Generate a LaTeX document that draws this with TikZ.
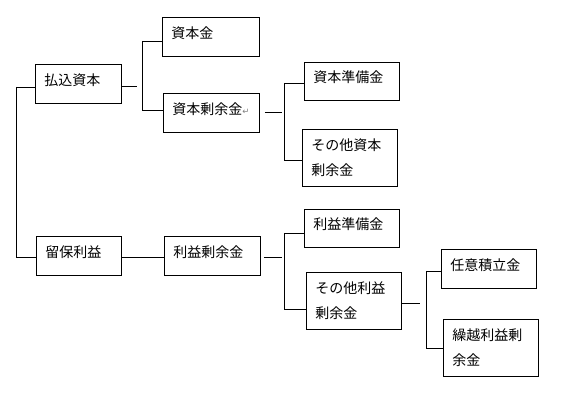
\documentclass[tikz,border=0pt]{standalone}
\usepackage{fontspec}
\newfontfamily\jpfont{Noto Sans CJK JP}
\newfontfamily\symfont{DejaVu Sans}
\tikzset{
  acct/.style={draw,line width=0.9pt,anchor=north west,inner xsep=9pt,inner ysep=0pt,
    align=left,text height=9pt,text depth=6pt},
  acctii/.style={draw,line width=0.9pt,anchor=north west,inner xsep=9pt,inner ysep=0pt,
    align=left,text height=11pt},
  conn/.style={line width=0.9pt}
}
\begin{document}
\begin{tikzpicture}[x=1pt,y=-1pt,font=\jpfont\fontsize{14}{25}\selectfont]
  \useasboundingbox (0,0) rectangle (576,406);
  % top level
  \node[acct,text width=68pt,minimum height=39pt] (haraikomi) at (35,64) {払込資本};
  \node[acct,text width=67pt,minimum height=39pt] (ryuho) at (36,236) {留保利益};
  % second level
  \node[acct,text width=79pt,minimum height=39pt] (shihonkin) at (162,17) {資本金};
  \node[acct,text width=78pt,minimum height=39pt] (shihonjoyo) at (163,93)
     {資本剰余金{\symfont\fontsize{8.5}{8}\selectfont\color{gray}↵}};
  \node[acct,text width=78pt,minimum height=39pt] (riekijoyo) at (164,236) {利益剰余金};
  % third level
  \node[acct,text width=77pt,minimum height=38pt] (shihonjunbi) at (304,62) {資本準備金};
  \node[acctii,text width=77pt,minimum height=57pt] (sonotashihon) at (302,129) {その他資本\\剰余金};
  \node[acct,text width=77pt,minimum height=38pt] (riekijunbi) at (304,209) {利益準備金};
  \node[acctii,text width=77pt,minimum height=57pt] (sonotarieki) at (306,272) {その他利益\\剰余金};
  % fourth level
  \node[acct,text width=77pt,minimum height=39pt] (nini) at (441,249) {任意積立金};
  \node[acctii,text width=77pt,minimum height=57pt] (kurikoshi) at (443,319) {繰越利益剰\\余金};

  % brackets
  \coordinate (s0t) at (16,87);  \coordinate (s0b) at (16,257);
  \coordinate (s1t) at (142,41); \coordinate (s1b) at (142,110);
  \coordinate (s2t) at (284,83); \coordinate (s2b) at (284,160);
  \coordinate (s3t) at (284,233); \coordinate (s3b) at (284,309);
  \coordinate (s4t) at (426,271); \coordinate (s4b) at (426,348);
  \draw[conn] (s0t) -- (s0b);
  \draw[conn] (s0t) -- (s0t -| haraikomi.west);
  \draw[conn] (s0b) -- (s0b -| ryuho.west);
  \draw[conn] (haraikomi.east |- 0,86) -- (137,86);
  \draw[conn] (s1t) -- (s1b);
  \draw[conn] (s1t) -- (s1t -| shihonkin.west);
  \draw[conn] (s1b) -- (s1b -| shihonjoyo.west);
  \draw[conn] (ryuho.east |- 0,257) -- (riekijoyo.west |- 0,257);
  \draw[conn] (shihonjoyo.east |- 0,112) ++(5,0) -- ++(17,0);
  \draw[conn] (s2t) -- (s2b);
  \draw[conn] (s2t) -- (s2t -| shihonjunbi.west);
  \draw[conn] (s2b) -- (s2b -| sonotashihon.west);
  \draw[conn] (riekijoyo.east |- 0,257) ++(3,0) -- ++(18,0);
  \draw[conn] (s3t) -- (s3b);
  \draw[conn] (s3t) -- (s3t -| riekijunbi.west);
  \draw[conn] (s3b) -- (s3b -| sonotarieki.west);
  \draw[conn] (sonotarieki.east |- 0,303) -- ++(18,0);
  \draw[conn] (s4t) -- (s4b);
  \draw[conn] (s4t) -- (s4t -| nini.west);
  \draw[conn] (s4b) -- (s4b -| kurikoshi.west);
\end{tikzpicture}
\end{document}
